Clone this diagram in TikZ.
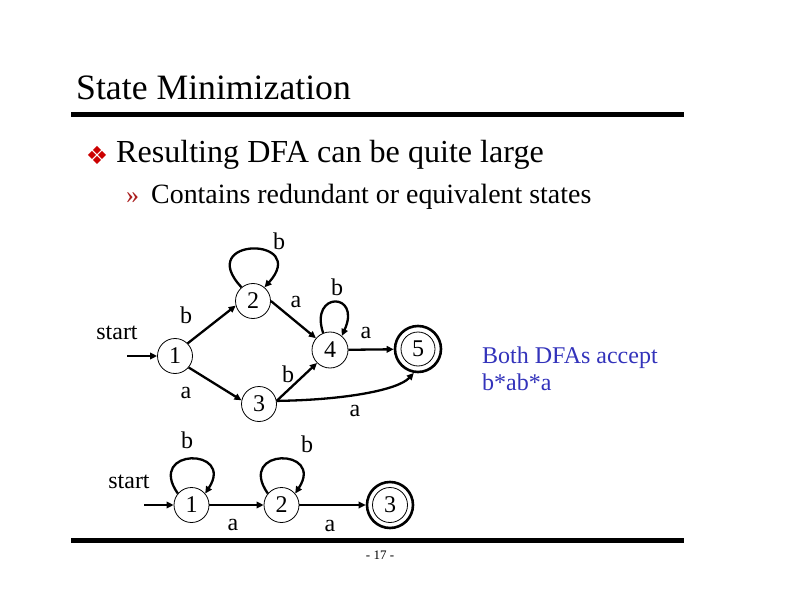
\documentclass[tikz,border=0pt]{standalone}
\usepackage{fontspec}
\setmainfont{Liberation Serif}
\newfontfamily\symfont{DejaVu Sans}
\usetikzlibrary{arrows.meta}
\definecolor{bulletred}{RGB}{204,0,0}
\definecolor{quored}{RGB}{170,30,30}
\definecolor{noteblue}{RGB}{51,51,187}
\begin{document}
\begin{tikzpicture}[x=1pt,y=-1pt,
  st/.style={circle,draw,line width=0.8pt,minimum size=35pt,inner sep=0pt,font=\fontsize{24}{24}\selectfont},
  acc/.style={circle,draw,line width=2.6pt,minimum size=46pt,inner sep=0pt,font=\fontsize{24}{24}\selectfont},
  ed/.style={line width=2.3pt,-{Triangle[length=7pt,width=6.5pt]}},
  lab/.style={inner sep=0pt,font=\fontsize{24}{24}\selectfont},
  txt/.style={inner sep=0pt,anchor=base west}
]
\useasboundingbox[fill=white] (0,0) rectangle (792,612);

% title and rules
\node[txt,font=\fontsize{35.7}{35.7}\selectfont] (title) at (76,100) {State Minimization};
\draw[line width=4.5pt] (71,114.5) -- (684,114.5);
\draw[line width=4.5pt] (71,540.5) -- (684,540.5);

% bullets
\node[inner sep=0pt,text=bulletred,font=\symfont\fontsize{25}{25}\selectfont] (bul) at (97,155) {❖};
\node[txt,font=\fontsize{32.1}{32.1}\selectfont] (l1) at (116,163) {Resulting DFA can be quite large};
\node[txt,text=quored,font=\fontsize{26}{26}\selectfont] (quo) at (126,204) {»};
\node[txt,font=\fontsize{27.9}{27.9}\selectfont] (l2) at (151,204) {Contains redundant or equivalent states};

% upper DFA
\node[lab] (start1) at (117,333) {start};
\coordinate (s1) at (127,356);
\node[st] (n1) at (175,356) {1};
\node[st] (n2) at (253,301) {2};
\node[st] (n3) at (259,404) {3};
\node[st,minimum size=36pt] (n4) at (330,350) {4};
\node[acc] (n5) at (418,349) {5};
\draw[line width=0.8pt] (n5.center) circle[radius=17pt];

\draw[ed] (s1) -- (n1);
\draw[ed] (n1.45) -- (n2.-165);
\draw[ed] (n1.-40) -- (n3.168);
\draw[ed] (n2.east) -- (n4.140);
\draw[ed] (n3.10) -- (n4.-135);
\draw[ed] (n4) -- (n5);
\draw[ed] (n3.10) .. controls (345,400) and (398,390) .. (n5.-100);
\draw[ed] (n2.130) .. controls +(-48,-51) and +(46,-51) .. (n2.50);
\draw[ed] (n4.112) .. controls +(-14,-42) and +(20,-44) .. (n4.50);

\node[lab] (lb22) at (279,241) {b};
\node[lab] (lb12) at (186,315) {b};
\node[lab] (la13) at (186,393) {a};
\node[lab] (la24) at (296,302) {a};
\node[lab] (lb44) at (337,287) {b};
\node[lab] (la45) at (366,333) {a};
\node[lab] (lb34) at (288,374) {b};
\node[lab] (la35) at (355,411) {a};

% note
\node[txt,text=noteblue,font=\fontsize{24}{24}\selectfont] (note1) at (482,363) {Both DFAs accept};
\node[txt,text=noteblue,font=\fontsize{24}{24}\selectfont] (note2) at (482,390) {b*ab*a};

% lower DFA
\node[lab] (start2) at (129,482) {start};
\coordinate (s2) at (144,505);
\node[st] (m1) at (191.5,505) {1};
\node[st] (m2) at (281.5,505) {2};
\node[acc] (m3) at (390,505) {3};
\draw[line width=0.8pt] (m3.center) circle[radius=17.5pt];

\draw[ed] (s2) -- (m1);
\draw[ed] (m1) -- (m2);
\draw[ed] (m2) -- (m3);
\draw[ed] (m1.140) .. controls +(-32,-46) and +(30,-46) .. (m1.40);
\draw[ed] (m2.140) .. controls +(-32,-46) and +(30,-46) .. (m2.40);

\node[lab] (lbm1) at (187,440) {b};
\node[lab] (lbm2) at (307,444) {b};
\node[lab] (lam12) at (233,525) {a};
\node[lab] (lam23) at (330,526) {a};

% page number
\node[inner sep=0pt,font=\fontsize{13}{13}\selectfont] (pg) at (380,555) {- 17 -};
\end{tikzpicture}
\end{document}
